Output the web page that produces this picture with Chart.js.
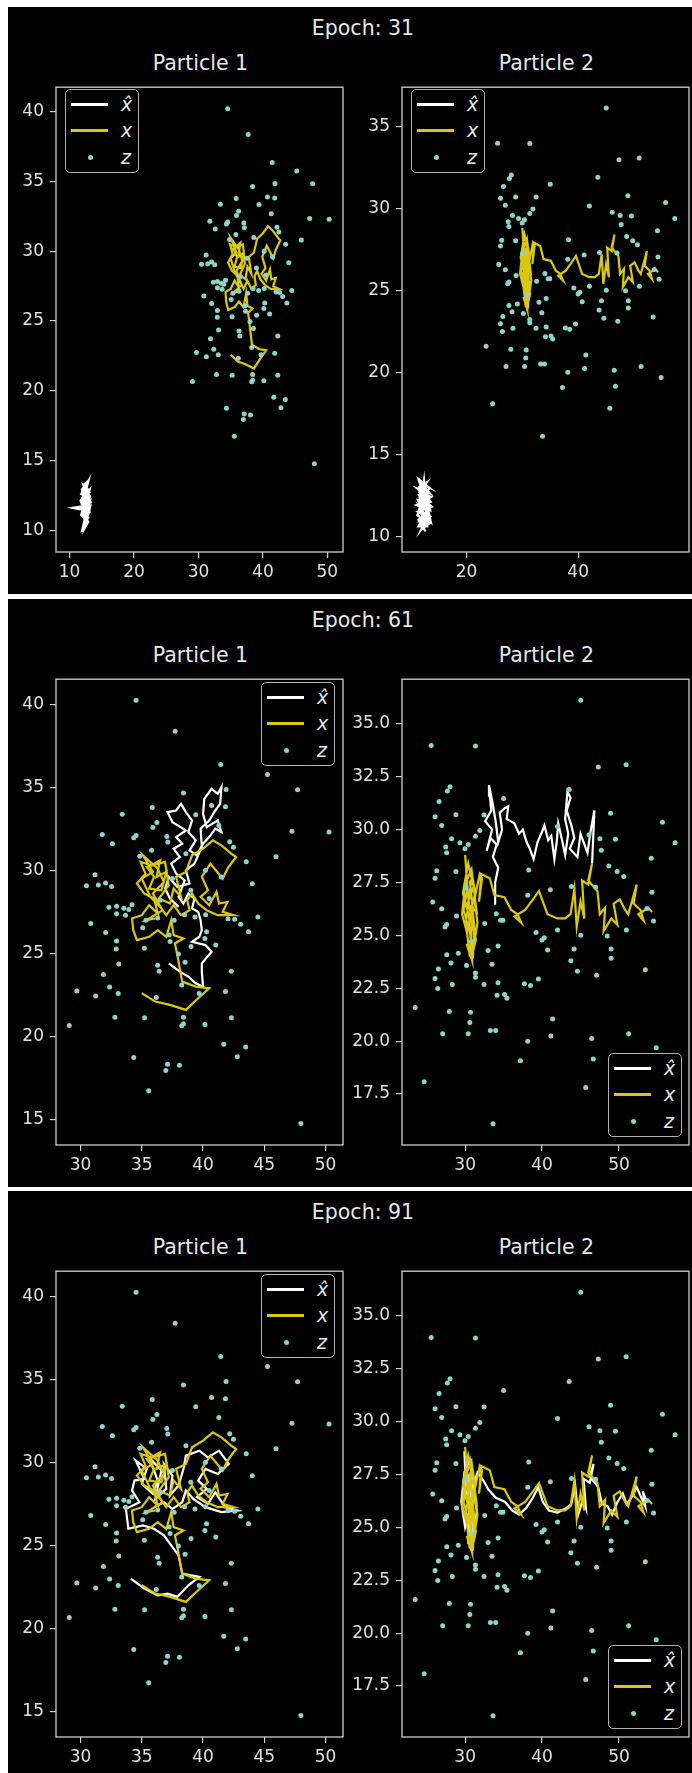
<!DOCTYPE html>
<html>
<head>
<meta charset="utf-8">
<script src="https://cdn.jsdelivr.net/npm/chart.js@4.4.1/dist/chart.umd.min.js"></script>
<style>
body { margin: 0; background: #fff; width: 692px; height: 1773px; position: relative; overflow: hidden; font-family: "DejaVu Sans", sans-serif; }
.panel { position: absolute; left: 8px; width: 684px; background: #000; }
.title { position: absolute; color: #e8e8e8; font-size: 20.5px; transform: translate(-50%, -50%); white-space: nowrap; }
canvas { position: absolute; }
.leg { position: absolute; width: 72px; height: 82px; border: 1.5px solid #b0b0b0; border-radius: 5px; background: #000; }
.leg .ln { position: absolute; left: 5px; width: 37px; height: 2.5px; }
.leg .dot { position: absolute; left: 22px; width: 5px; height: 5px; border-radius: 50%; }
.leg .lb { position: absolute; left: 55px; color: #e8e8e8; font-size: 19px; font-style: italic; transform: translateY(-50%); }
</style>
</head>
<body>
<script>
// ---- data ----
var epochs = [31, 61, 91];
var particleNames = ["Particle 1", "Particle 2"];
var seriesNames = ["x\u0302", "x", "z"];

// axis limits and ticks, one entry per epoch row
var xLim1 = [[7.89, 52.43], [27.99, 51.43], [27.99, 51.43]];
var yLim1 = [[8.44, 41.77], [13.47, 41.5], [13.47, 41.5]];
var xLim2 = [[8.46, 59.84], [21.79, 59.1], [21.79, 59.1]];
var yLim2 = [[9.04, 37.39], [15.09, 37.11], [15.09, 37.11]];
var xTicks1 = [[10, 20, 30, 40, 50], [30, 35, 40, 45, 50], [30, 35, 40, 45, 50]];
var yTicks1 = [[10, 15, 20, 25, 30, 35, 40], [15, 20, 25, 30, 35, 40], [15, 20, 25, 30, 35, 40]];
var xTicks2 = [[20, 40], [30, 40, 50], [30, 40, 50]];
var yTicks2 = [[10, 15, 20, 25, 30, 35], [17.5, 20, 22.5, 25, 27.5, 30, 32.5, 35], [17.5, 20, 22.5, 25, 27.5, 30, 32.5, 35]];
var yDecimals2 = [0, 1, 1];

// measurements z (same in every epoch)
var z1 = [[34.53,40.23],[37.72,38.37],[41.45,36.37],[45.26,35.76],[47.72,34.85],[41.88,34.87],[38.4,34.65],[35.85,33.78],[33.4,33.38],[40.7,33.9],[41.83,33.82],[39.4,33.35],[36.23,32.87],[35.9,32.57],[31.77,32.16],[34.53,32.1],[34.34,31.96],[32.6,31.6],[47.26,32.35],[50.29,32.3],[37.04,32.04],[37.12,31.7],[41.29,32.69],[42.18,31.72],[42.48,31.39],[45.96,30.81],[43.53,30.51],[34.83,30.85],[44.02,29.19],[31.18,29.74],[30.48,29.07],[31.45,29.11],[32.04,29.23],[32.53,29.03],[32.31,27.78],[32.94,27.84],[33.53,27.72],[33.94,27.64],[34.2,27.92],
  [32.94,27.39],[33.67,27.29],[30.83,26.8],[32.04,26.26],[32.94,25.75],[32.91,25.27],[33.12,24.36],[31.86,23.73],[32.37,22.98],[33.07,22.58],[31.23,22.44],[29.69,22.74],[29.07,20.66],[32.8,21.16],[35.23,21.12],[36.18,22.34],[35.34,26.99],[35.07,26.54],[36.29,27.13],[37.64,26.99],[38.48,27.33],[39.34,27.19],[40.21,27.33],[40.29,26.3],[40.15,25.9],[41.04,25.51],[42.04,27.09],[42.58,27.05],[43.07,26.76],[43.72,26.3],[44.48,27.19],[35.21,25.31],[37.23,26.1],[37.31,25.71],[37.99,24.96],[39.02,25.41],[38.53,24.46],[36.29,24.28],[36.42,23.93],[38.26,23.1],[39.69,22.58],[41.83,22.7],[42.31,23.93],[38.4,21.16],[38.4,20.76],[38.26,20.64],[40.15,20.72],[42.31,21.12],[41.69,19.53],[43.48,19.37],[42.8,18.78],[34.34,18.74],[37.1,18.33],[38.07,18.27],[36.96,17.95],[35.56,16.74],[47.99,14.76],
  [37.5,29.5],[39.0,28.8],[40.5,28.3],[41.5,29.6],[36.5,28.2],[35.8,31.2],[38.6,31.0],[40.2,30.0]];
var z2 = [[45.03,36.12],[25.58,33.97],[31.34,33.95],[47.31,32.96],[50.92,33.07],[28.03,32.03],[27.69,31.82],[26.61,31.33],[26.09,30.61],[28.8,30.7],[26.95,30.19],[32.46,30.69],[35.0,31.47],[43.52,31.89],[48.9,30.77],[55.65,30.35],[57.29,29.38],[28.24,29.57],[29.32,29.38],[27.47,29.18],[27.6,28.9],[29.97,29.1],[30.4,29.3],[31.34,29.69],[31.9,29.96],[42.01,30.15],[46.1,29.76],[47.52,29.57],[49.54,29.54],[47.69,29.02],[54.19,28.64],[26.31,28.06],[26.09,27.7],[28.8,28.02],[38.27,28.09],[48.68,28.28],[49.76,28.02],[50.62,27.78],[41.07,27.16],[38.14,26.9],[43.82,27.31],[54.28,27.04],[25.79,26.58],[26.95,26.26],[53.63,26.27],[46.96,27.28],[30.09,27.24],
  [28.89,25.91],[27.38,25.4],[27.6,25.51],[32.55,25.56],[34.61,25.71],[34.91,25.71],[34.05,26.02],[39.22,25.14],[40.29,24.89],[39.99,24.78],[42.01,25.25],[45.03,25.01],[44.17,24.36],[43.74,23.8],[44.6,23.3],[47.09,23.11],[48.98,24.36],[48.98,23.92],[48.47,24.97],[50.96,25.25],[54.49,25.68],[53.42,23.38],[40.72,24.31],[39.52,22.94],[38.49,22.63],[37.71,22.71],[34.27,24.5],[32.98,24.28],[33.49,23.64],[30.18,23.58],[29.11,24.16],[27.6,24.08],[28.16,23.69],[26.52,23.41],[26.09,22.96],[26.44,22.49],[28.33,22.68],[31.34,23.22],[31.34,23.02],[32.46,22.68],[34.27,22.76],[34.14,22.17],[35.13,22.21],[35.43,22.03],[23.51,21.59],[27.94,21.4],[30.7,21.36],[30.61,20.88],[27.08,20.35],[30.4,20.35],[33.28,20.5],[33.97,20.5],[41.37,21.05],[41.15,20.24],[38.14,20.0],[46.45,20.13],[51.26,20.35],[54.84,19.69],[46.66,19.15],[37.19,19.07],[45.67,17.81],[24.67,18.08],[33.62,16.1],[30.83,24.7]];

// true state x (same in every epoch)
var x1 = [[35.0,22.6],[36.1,22.1],[37.3,21.9],[38.6,21.6],[39.6,22.3],[40.5,22.9],[39.4,23.0],[38.3,23.3],[38.1,24.1],[37.9,24.9],[37.7,25.6],[38.4,25.9],[37.6,26.1],[37.4,27.0],[37.0,26.0],[36.3,26.4],[35.6,26.0],[34.6,25.8],[34.3,26.4],[34.2,27.1],[35.0,27.3],[35.6,27.9],[36.3,27.4],[36.0,28.3],[35.2,28.6],[34.6,29.2],[35.3,29.8],[34.9,30.5],[35.8,30.3],[36.5,30.6],[36.2,29.6],[37.0,29.9],[36.6,28.8],[35.6,28.9],[36.0,29.6],[35.4,30.2],[36.9,30.5],[37.2,29.1],[36.4,28.3],[37.3,28.0],[37.6,28.9],[38.2,28.4],[37.8,29.6],[38.6,29.9],[39.1,30.9],[40.0,31.3],[40.8,31.8],[41.5,31.5],[42.3,31.0],[42.7,30.8],[42.0,30.1],[41.6,29.5],[40.6,30.4],[39.9,29.6],[40.4,28.8],[39.8,28.4],[40.5,27.9],[41.1,28.7],[41.3,28.0],[42.0,28.1],[41.6,27.5],[42.5,27.3],[41.2,27.3],[40.3,27.6],[39.6,28.0],[39.1,28.6],[38.7,28.2],[38.9,27.6],[38.2,27.3],[37.6,27.9],[37.0,27.3],[36.5,27.8],[35.7,28.4],[35.0,29.5],[35.9,29.9],[35.1,30.9],[36.3,30.1],[36.8,29.3],[35.9,28.6],[36.7,27.6],[35.4,27.0],[36.1,27.1]];
var x2 = [[30.2,24.6],[30.9,23.8],[30.5,25.9],[29.7,27.0],[30.4,28.4],[31.1,27.3],[30.3,26.5],[31.5,26.1],[30.9,27.9],[30.1,25.6],[30.6,24.0],[30.9,25.5],[30.4,26.8],[30.0,28.8],[30.3,27.2],[29.8,26.2],[30.7,25.0],[31.0,23.9],[31.2,25.4],[30.6,27.6],[31.0,26.3],[30.2,25.2],[29.6,26.0],[30.0,27.4],[30.8,28.1],[31.3,27.0],[30.7,26.0],[31.4,24.8],[31.0,24.2],[31.6,25.6],[31.2,26.7],[31.9,27.9],[32.2,27.7],[31.8,26.6],[32.1,27.9],[33.2,27.7],[33.8,26.9],[35.1,26.8],[36.0,26.2],[36.8,26.0],[37.3,25.6],[36.4,25.9],[37.8,26.2],[38.6,26.6],[39.6,27.1],[40.2,26.5],[40.7,26.0],[42.0,25.8],[43.0,25.8],[43.7,26.0],[44.2,27.2],[44.5,25.4],[45.0,26.6],[45.5,25.8],[45.2,27.6],[46.0,27.4],[46.5,28.4],[46.0,27.6],[47.2,27.1],[47.5,26.0],[48.2,26.3],[48.0,25.2],[49.0,25.8],[49.8,25.5],[49.3,26.5],[50.1,26.7],[50.8,26.2],[51.2,26.0],[52.3,27.4],[51.9,26.5],[52.8,26.2],[53.2,25.7],[52.5,26.0],[53.8,26.3],[54.3,26.1]];

// estimates x-hat, per epoch
var xh1_31 = [[12.0,11.5],[12.6,11.9],[11.9,12.3],[12.8,12.6],[12.3,13.0],[12.9,13.5],[12.5,12.8],[13.2,12.4],[12.4,12.0],[13.0,11.6],[12.2,11.2],[12.9,10.9],[12.3,10.6],[12.7,11.3],[11.8,11.7],[10.5,11.6],[11.6,11.5],[12.4,11.8],[13.3,12.0],[12.6,12.5],[11.9,12.9],[12.5,13.3],[12.1,12.4],[13.1,12.9],[12.7,12.2],[12.0,11.9],[12.8,11.4],[12.2,10.9],[12.6,10.4],[12.0,10.1],[12.3,10.7],[12.9,11.1],[13.2,11.7],[12.4,11.4],[11.7,12.1],[12.6,12.7],[12.2,13.2],[12.9,12.9],[12.4,12.3],[13.0,12.1],[12.1,11.6],[12.7,10.8],[12.2,10.3],[11.9,9.9],[12.3,10.5],[12.8,11.6],[12.5,12.4],[12.0,12.6],[12.6,11.1],[13.1,11.3],
  [12.3,11.9],[12.9,12.3],[11.8,12.6],[12.6,13.1],[12.1,12.8],[13.0,12.7],[12.4,12.5],[11.9,11.3],[12.7,11.7],[12.2,11.0],[12.9,10.6],[12.4,10.2],[12.8,10.9],[12.1,11.2],[13.1,11.8],[12.5,12.1],[12.0,12.0],[12.8,12.9],[12.3,13.4],[12.7,13.0],[12.0,12.2],[13.2,12.2],[12.5,11.5],[11.8,11.1],[12.6,10.7]];
var xh2_31 = [[11.5,12.0],[12.8,12.4],[11.2,12.9],[13.5,12.6],[12.0,13.2],[13.2,13.0],[11.4,13.5],[12.6,12.2],[13.8,11.8],[11.3,11.5],[12.9,11.2],[11.6,10.9],[13.4,10.8],[12.2,10.5],[13.0,11.6],[11.1,11.9],[13.6,12.1],[12.4,12.7],[11.3,12.5],[13.1,12.8],[12.0,11.4],[13.5,11.2],[11.8,10.7],[12.7,10.3],[11.4,11.0],[13.2,11.5],[12.1,12.1],[13.7,12.4],[11.6,12.7],[12.9,13.3],[11.5,13.0],[12.5,11.8],[13.3,11.0],[11.9,10.4],[12.6,10.9],[11.2,11.3],[13.0,12.3],[12.3,12.9],[13.6,10.9],[11.7,11.7],
  [12.4,11.2],[11.3,12.2],[13.3,12.0],[11.9,13.1],[12.9,12.7],[11.5,11.6],[13.1,11.3],[12.2,10.8],[11.6,12.4],[13.4,12.9],[12.0,12.5],[12.8,11.5],[11.4,10.6],[13.0,10.6],[12.4,13.4],[11.8,12.0],[13.5,11.6],[12.6,12.9]];
var xh1_61 = [[37.2,24.4],[38.1,23.9],[38.8,23.6],[39.4,23.2],[40.0,23.0],[39.9,23.9],[39.9,24.4],[40.7,25.1],[40.2,25.5],[39.1,25.7],[39.7,26.0],[39.9,26.4],[39.8,27.0],[39.6,27.5],[39.1,27.7],[39.3,28.3],[38.8,28.6],[38.4,28.0],[38.0,28.4],[38.5,29.4],[37.8,29.8],[37.4,30.4],[38.1,30.8],[37.6,31.3],[38.3,31.6],[37.8,32.0],[38.6,32.4],[37.5,32.9],[37.1,33.5],[37.8,33.6],[38.2,34.0],[38.6,33.5],[39.1,33.0],[38.8,32.3],[39.4,31.8],[38.9,31.2],[39.5,30.9],[40.0,31.6],[40.5,32.0],[41.0,32.5],[41.5,32.3],[41.2,33.0],[40.3,32.6],[40.0,33.4],[40.1,34.3],[40.7,34.9],[41.2,34.6],[41.5,35.0],[41.4,34.0],[41.0,33.6],[40.5,33.0],[39.8,32.5],[39.9,31.4],[39.3,30.4],[38.6,30.0],[38.9,29.2],[37.9,29.0],[37.2,29.6],[36.9,28.9],[37.3,28.3],[38.0,27.8]];
var xh2_61 = [[34.0,26.5],[33.9,27.5],[34.3,28.2],[33.6,28.7],[34.1,29.3],[33.3,29.6],[32.8,29.0],[33.5,30.0],[32.6,30.4],[33.4,30.9],[33.2,31.6],[33.1,32.1],[33.6,31.2],[34.0,30.3],[34.3,29.4],[34.8,30.0],[34.5,30.8],[35.1,31.0],[35.6,31.1],[35.4,30.5],[35.9,30.4],[36.4,30.3],[37.0,29.8],[37.5,30.0],[38.0,29.4],[38.4,29.1],[38.9,28.6],[39.4,29.4],[40.0,29.9],[40.3,30.2],[40.8,29.5],[41.2,29.7],[41.6,28.6],[41.9,29.4],[42.1,30.3],[42.6,29.5],[43.0,28.8],[43.4,29.8],[43.0,30.5],[43.3,31.8],[43.7,31.5],[43.2,30.9],[43.8,30.2],[44.2,29.6],[43.6,29.1],[44.6,28.7],[45.0,29.8],[45.5,29.3],[45.9,28.9],[46.3,29.9],[46.8,30.9],[46.5,28.4]];
var xh1_91 = [[34.1,23.0],[35.2,22.4],[36.3,22.0],[37.1,22.1],[37.9,21.9],[38.8,22.6],[39.7,23.1],[38.3,23.3],[38.0,24.4],[37.4,25.0],[36.8,25.6],[36.0,26.0],[35.1,26.2],[33.9,26.0],[33.7,27.2],[34.8,27.6],[34.2,28.3],[34.4,28.9],[35.2,29.0],[34.5,30.1],[35.4,29.6],[35.0,28.7],[35.9,28.1],[36.3,28.9],[35.6,30.3],[36.6,29.5],[36.1,27.8],[37.0,28.4],[36.8,29.9],[37.5,29.2],[37.3,28.0],[38.0,28.6],[38.4,29.6],[38.6,30.4],[39.7,30.7],[40.4,30.3],[41.3,30.7],[42.1,29.9],[41.2,29.3],[40.2,29.6],[39.6,28.9],[40.3,28.4],[39.5,27.9],[40.4,27.5],[41.0,28.2],[41.8,27.3],[42.8,27.1],[41.5,27.0],[40.2,27.3],[39.2,27.8],[38.6,28.3],[38.3,27.6],[37.5,27.2],[36.8,27.6],[36.0,27.3]];
var xh2_91 = [[30.4,24.2],[30.6,25.6],[30.1,26.9],[29.9,28.6],[30.2,27.1],[29.6,26.0],[30.5,24.9],[30.8,24.0],[31.0,25.3],[30.4,27.5],[30.8,26.1],[30.0,25.0],[29.5,26.2],[29.9,27.6],[30.6,28.2],[31.1,26.8],[30.5,25.7],[31.2,24.6],[31.5,25.8],[31.0,26.9],[31.6,27.6],[32.4,27.2],[33.0,26.8],[34.0,26.4],[35.2,26.2],[36.1,25.8],[37.0,25.6],[37.9,25.9],[38.8,26.4],[39.5,26.9],[40.1,26.2],[40.9,25.8],[42.0,25.7],[43.1,25.9],[43.8,26.1],[44.3,27.0],[44.7,25.6],[45.3,26.3],[45.7,25.9],[45.4,27.3],[46.2,27.1],[46.7,28.0],[46.2,27.4],[47.3,26.9],[47.8,26.1],[48.5,26.0],[49.1,25.6],[49.8,26.2],[50.5,26.6],[51.0,26.1],[51.6,26.4],[52.3,26.9],[52.9,26.4],[53.4,26.0],[53.1,26.7],[53.6,26.2]];

var xhat1 = [xh1_31, xh1_61, xh1_91];
var xhat2 = [xh2_31, xh2_61, xh2_91];

// ---- layout ----
var panelTop = [7, 599, 1191];
var panelH = [587, 588, 582];
var axTop = [81, 673, 1265];
var axH = [471, 472, 472];
var axLeft = [56, 402];
var axW = 289;
var legPos = [
  [[65, 89], [411, 89]],
  [[261, 682], [608, 1053]],
  [[261, 1274], [608, 1645]]
];

var white = "#ffffff";
var yellow = "#d8c714";
var cyan = "#8dd3c7";
var axisGrey = "#cfcfcf";

var frame = {
  id: "frame",
  afterDatasetsDraw: function (c) {
    var a = c.chartArea, g = c.ctx;
    g.save();
    g.strokeStyle = axisGrey;
    g.lineWidth = 1.3;
    g.strokeRect(a.left, a.top, a.right - a.left, a.bottom - a.top);
    g.restore();
  }
};

function pts(arr) {
  return arr.map(function (p) { return { x: p[0], y: p[1] }; });
}

function addText(txt, x, y) {
  var d = document.createElement("div");
  d.className = "title";
  d.textContent = txt;
  d.style.left = x + "px";
  d.style.top = y + "px";
  document.body.appendChild(d);
}

function addLegend(left, top) {
  var box = document.createElement("div");
  box.className = "leg";
  box.style.left = left + "px";
  box.style.top = top + "px";
  var rowY = [14, 40, 67];
  var colors = [white, yellow, cyan];
  seriesNames.forEach(function (name, i) {
    var m = document.createElement("span");
    if (i < 2) {
      m.className = "ln";
      m.style.top = (rowY[i] - 1) + "px";
    } else {
      m.className = "dot";
      m.style.top = (rowY[i] - 2.5) + "px";
    }
    m.style.background = colors[i];
    box.appendChild(m);
    var lb = document.createElement("span");
    lb.className = "lb";
    lb.style.top = rowY[i] + "px";
    lb.textContent = name;
    box.appendChild(lb);
  });
  document.body.appendChild(box);
}

function axisOpts(lim, ticks, decimals, isY) {
  return {
    type: "linear",
    min: lim[0],
    max: lim[1],
    afterBuildTicks: function (s) { s.ticks = ticks.map(function (v) { return { value: v }; }); },
    afterFit: function (s) { if (isY) s.width = 55; else s.height = 45; },
    border: { display: false },
    grid: { drawOnChartArea: false, drawTicks: true, tickLength: 6, color: axisGrey, lineWidth: 1.2 },
    ticks: {
      color: "#e0e0e0",
      padding: isY ? 6 : 4,
      font: { family: "DejaVu Sans", size: 17 },
      maxRotation: 0,
      autoSkip: false,
      callback: function (v) { return decimals ? Number(v).toFixed(decimals) : String(v); }
    }
  };
}

function makeChart(row, col, xLim, yLim, xTicks, yTicks, decimals, xhat, xTrue, z) {
  var cv = document.createElement("canvas");
  var W = 55 + axW + 2, H = 10 + axH[row] + 45;
  cv.width = W;
  cv.height = H;
  cv.style.left = (axLeft[col] - 55) + "px";
  cv.style.top = (axTop[row] - 10) + "px";
  document.body.appendChild(cv);
  new Chart(cv, {
    type: "scatter",
    data: {
      datasets: [
        { label: "z", data: pts(z), showLine: false, pointRadius: 2.5, pointBackgroundColor: cyan, pointBorderWidth: 0, order: 0 },
        { label: "x", data: pts(xTrue), showLine: true, borderColor: yellow, borderWidth: 2.2, pointRadius: 0, tension: 0, fill: false, order: 1 },
        { label: "xhat", data: pts(xhat), showLine: true, borderColor: white, borderWidth: 2.2, pointRadius: 0, tension: 0, fill: false, order: 2 }
      ]
    },
    options: {
      responsive: false,
      devicePixelRatio: 1,
      animation: false,
      layout: { padding: { top: 10, right: 2, left: 0, bottom: 0 } },
      plugins: { legend: { display: false }, tooltip: { enabled: false } },
      scales: {
        x: axisOpts(xLim, xTicks, 0, false),
        y: axisOpts(yLim, yTicks, decimals, true)
      }
    },
    plugins: [frame]
  });
}

epochs.forEach(function (ep, r) {
  var p = document.createElement("div");
  p.className = "panel";
  p.style.top = panelTop[r] + "px";
  p.style.height = panelH[r] + "px";
  document.body.appendChild(p);
});

epochs.forEach(function (ep, r) {
  addText("Epoch: " + ep, 363, axTop[r] - 53);
  addText(particleNames[0], axLeft[0] + axW / 2, axTop[r] - 18);
  addText(particleNames[1], axLeft[1] + axW / 2, axTop[r] - 18);
  makeChart(r, 0, xLim1[r], yLim1[r], xTicks1[r], yTicks1[r], 0, xhat1[r], x1, z1);
  makeChart(r, 1, xLim2[r], yLim2[r], xTicks2[r], yTicks2[r], yDecimals2[r], xhat2[r], x2, z2);
  addLegend(legPos[r][0][0], legPos[r][0][1]);
  addLegend(legPos[r][1][0], legPos[r][1][1]);
});
</script>
</body>
</html>
